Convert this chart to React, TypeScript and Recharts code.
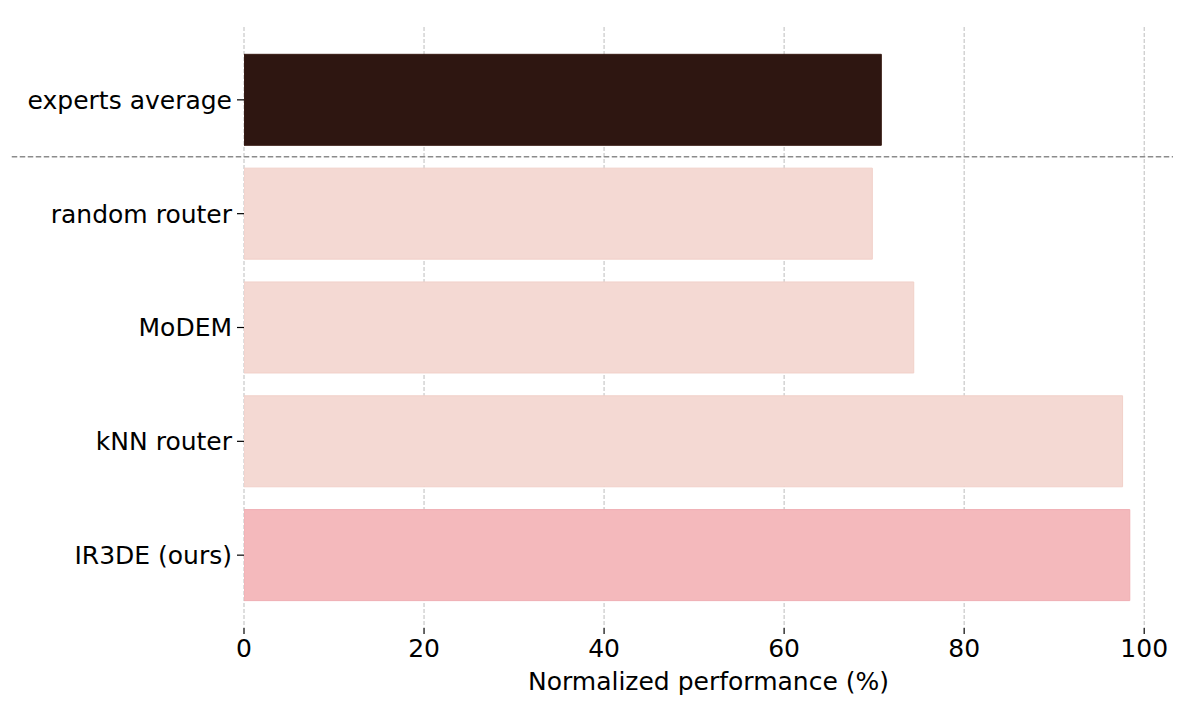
import React from "react";
import { BarChart, Bar, XAxis, YAxis, CartesianGrid, ReferenceLine, Cell, Label } from "recharts";

const categories = ["experts average", "random router", "MoDEM", "kNN router", "IR3DE (ours)"];
const performance = [70.8, 69.8, 74.4, 97.6, 98.4];
const barColors = ["#2e1611", "#f4d9d3", "#f4d9d3", "#f4d9d3", "#f4b9bc"];
const barEdges = ["#3a1d16", "#f1d0c9", "#f1d0c9", "#f1d0c9", "#efaeb2"];
const xTicks = [0, 20, 40, 60, 80, 100];
const yPositions = [0, 1, 2, 3, 4];

const data = categories.map((name, i) => ({ name, pos: yPositions[i], value: performance[i] }));

const FONT = "'DejaVu Sans', sans-serif";

export default function App() {
  return (
    <div style={{ width: 1184, height: 704, fontFamily: FONT }}>
      <BarChart
        width={1184}
        height={704}
        data={data}
        layout="vertical"
        margin={{ top: 19, right: 19, left: 0, bottom: 0 }}
        barCategoryGap="10%"
      >
        <CartesianGrid horizontal={false} syncWithTicks stroke="#bdbdbd" strokeDasharray="4 2" strokeWidth={1} />
        <XAxis
          type="number"
          dataKey="value"
          domain={[0, 103.2]}
          ticks={xTicks}
          allowDataOverflow
          axisLine={false}
          tickLine={{ stroke: "#000", strokeWidth: 1.2 }}
          tickSize={6}
          tickMargin={5}
          height={84}
          tick={{ fill: "#000", fontSize: 25, fontFamily: FONT }}
        >
          <Label
            value="Normalized performance (%)"
            position="insideBottom"
            offset={22}
            style={{ fill: "#000", fontSize: 25, fontFamily: FONT }}
          />
        </XAxis>
        <YAxis
          type="number"
          dataKey="pos"
          domain={[-0.64, 4.64]}
          ticks={yPositions}
          allowDataOverflow
          tickFormatter={(v: number) => categories[v]}
          axisLine={false}
          tickLine={{ stroke: "#000", strokeWidth: 1.2 }}
          tickSize={7}
          tickMargin={5}
          width={236}
          interval={0}
          tick={{ fill: "#000", fontSize: 25, fontFamily: FONT }}
        />
        <Bar dataKey="value" isAnimationActive={false}>
          {data.map((d, i) => (
            <Cell key={d.name} fill={barColors[i]} stroke={barEdges[i]} strokeWidth={1} />
          ))}
        </Bar>
        <ReferenceLine
          segment={[
            { x: -25.8, y: 0.5 },
            { x: 103.2, y: 0.5 },
          ]}
          ifOverflow="visible"
          stroke="#8c8c8c"
          strokeWidth={1.4}
          strokeDasharray="5.5 2.5"
        />
      </BarChart>
    </div>
  );
}
